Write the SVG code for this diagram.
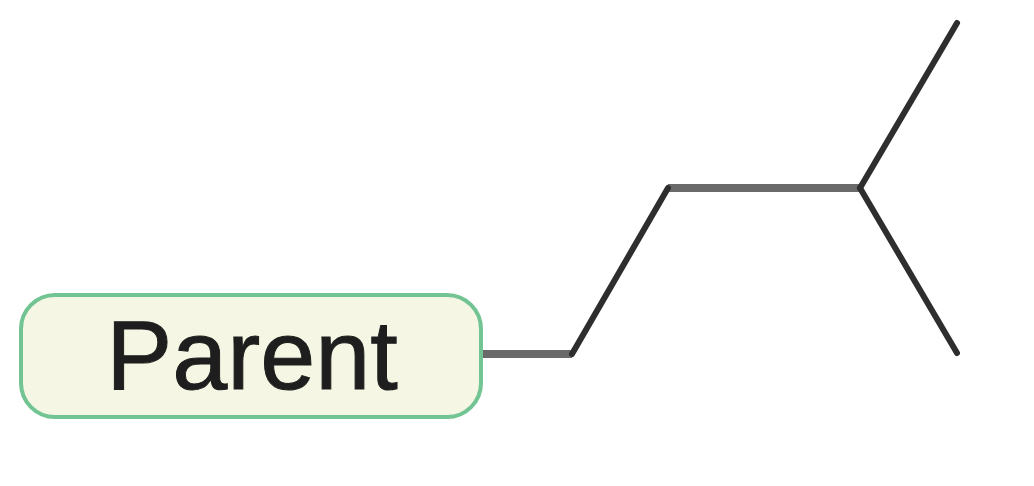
<svg xmlns="http://www.w3.org/2000/svg" width="1034" height="486" viewBox="0 0 1034 486">
<style>
.node rect{fill:#f5f6e3;stroke:#72c493;stroke-width:4}
.node text{font-family:"Liberation Sans",Arial,sans-serif;font-size:99px;fill:#1e1e1e;text-anchor:middle;stroke:#1e1e1e;stroke-width:1}
.h{fill:none;stroke:#6a6a6a;stroke-width:8}
.d{fill:none;stroke:#2e2e2e;stroke-width:6;stroke-linecap:round}
</style>
<rect width="1034" height="486" fill="#ffffff"/>
<g id="connectors">
<path class="h" d="M482 354H572"/>
<path class="h" d="M668 188H860"/>
<path class="d" d="M572 354L668 188"/>
<path class="d" d="M860 188L957 23"/>
<path class="d" d="M860 188L957 353"/>
</g>
<g id="node-parent" class="node">
<rect x="21" y="295" width="460" height="122" rx="34" ry="34"/>
<text x="252" y="389">Parent</text>
</g>
</svg>
